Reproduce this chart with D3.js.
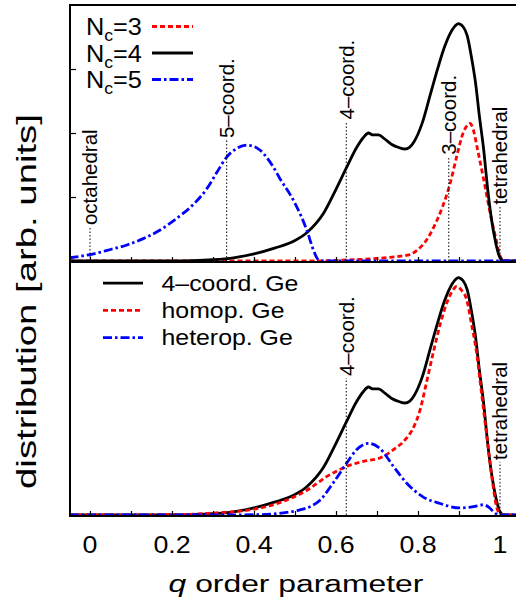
<!DOCTYPE html>
<html>
<head>
<meta charset="utf-8">
<script src="https://cdn.jsdelivr.net/npm/d3@7"></script>
<style>
  html, body { margin: 0; padding: 0; background: #fff; }
  svg { display: block; font-family: "Liberation Sans", Arial, Helvetica, sans-serif; }
</style>
</head>
<body>
<svg id="chart" width="516" height="606"></svg>
<script>
// Distribution of the q order parameter, split by coordination number (top)
// and by homopolar / heteropolar bonding of 4-fold Ge (bottom). [q, value]
const nc3 = [[-0.05,0],[0.55,0],[0.62,0.015],[0.7,0.04],[0.75,0.07],[0.78,0.1],[0.8,0.18],
  [0.82,0.32],[0.84,0.55],[0.86,0.85],[0.88,1.25],[0.895,1.65],[0.91,2.0],[0.92,2.12],
  [0.927,2.15],[0.935,2.05],[0.945,1.75],[0.96,1.28],[0.975,0.78],[0.99,0.35],[1.0,0.08],
  [1.01,0],[1.05,0]];
const nc4 = [[-0.05,0],[0.2,0],[0.25,0.005],[0.3,0.02],[0.35,0.05],[0.4,0.11],[0.45,0.2],
  [0.5,0.32],[0.53,0.45],[0.57,0.75],[0.6,1.12],[0.625,1.45],[0.65,1.77],[0.667,1.93],
  [0.679,2.0],[0.69,1.97],[0.703,1.97],[0.72,1.9],[0.736,1.82],[0.755,1.77],[0.768,1.75],
  [0.78,1.78],[0.79,1.86],[0.81,2.15],[0.83,2.6],[0.85,3.05],[0.865,3.35],[0.878,3.55],
  [0.89,3.67],[0.898,3.71],[0.91,3.66],[0.92,3.52],[0.93,3.2],[0.94,2.8],[0.95,2.25],
  [0.96,1.75],[0.97,1.12],[0.98,0.62],[0.99,0.27],[1.0,0.05],[1.01,0],[1.05,0]];
const nc5 = [[-0.05,0.05],[0,0.1],[0.05,0.18],[0.09,0.25],[0.13,0.35],[0.17,0.48],[0.21,0.66],
  [0.25,0.87],[0.285,1.13],[0.31,1.39],[0.333,1.62],[0.358,1.76],[0.382,1.81],[0.4,1.79],
  [0.415,1.73],[0.447,1.47],[0.463,1.29],[0.496,0.95],[0.515,0.7],[0.53,0.46],[0.545,0.17],
  [0.557,0.02],[0.57,0],[1.05,0]];
const fourCoordGe = nc4;
const homopGe = [[-0.05,0],[0.2,0.005],[0.3,0.03],[0.39,0.08],[0.43,0.13],[0.47,0.21],[0.5,0.29],
  [0.53,0.39],[0.555,0.5],[0.577,0.6],[0.6,0.68],[0.626,0.76],[0.65,0.81],[0.675,0.85],
  [0.707,0.89],[0.725,0.95],[0.74,1.02],[0.772,1.2],[0.79,1.38],[0.805,1.64],[0.82,2.05],
  [0.837,2.53],[0.855,3.0],[0.87,3.31],[0.882,3.48],[0.894,3.57],[0.905,3.52],[0.919,3.36],
  [0.93,3.0],[0.943,2.53],[0.955,1.9],[0.968,1.22],[0.98,0.6],[0.992,0.12],[1.0,0.02],
  [1.01,0],[1.05,0]];
const heteropGe = [[-0.05,0],[0.35,0],[0.431,0.01],[0.48,0.04],[0.512,0.08],[0.54,0.14],
  [0.561,0.23],[0.593,0.5],[0.626,0.81],[0.65,1.02],[0.679,1.12],[0.707,1.04],[0.74,0.76],
  [0.772,0.5],[0.813,0.28],[0.854,0.18],[0.902,0.11],[0.935,0.13],[0.959,0.16],[0.975,0.11],
  [0.984,0.05],[1.0,0],[1.05,0]];

const topLegend = ["3", "4", "5"];               // N_c values
const bottomLegend = ["4–coord. Ge", "homop. Ge", "heterop. Ge"];
const topMarkerNames = ["octahedral", "5–coord.", "4–coord.", "3–coord.", "tetrahedral"];
const topMarkerQ = [0, 1/3, 0.625, 0.875, 1];
const bottomMarkerNames = ["4–coord.", "tetrahedral"];
const bottomMarkerQ = [0.625, 1];
const xTickValues = [0, 0.1, 0.2, 0.3, 0.4, 0.5, 0.6, 0.7, 0.8, 0.9, 1];
const xLabelValues = [0, 0.2, 0.4, 0.6, 0.8, 1];
const xTickLabels = ["0", "0.2", "0.4", "0.6", "0.8", "1"];
const yTickValues = [1, 2, 3];

const svg = d3.select("#chart");
const left = 70, right = 521;
const x = d3.scaleLinear().domain([0, 1]).range([90, 500]);
const topP = { y0: 5, y1: 262 };
const botP = { y0: 262, y1: 516 };
const yTop = d3.scaleLinear().domain([0, 4]).range([261, 5]);
const yBot = d3.scaleLinear().domain([0, 4]).range([515, 259]);

const styles = {
  red:   { stroke: "#ff0000", dash: "5,3" },
  black: { stroke: "#000000", dash: null },
  blue:  { stroke: "#0000ff", dash: "9,3,2.5,3" }
};

// clip regions for the two panels
const defs = svg.append("defs");
[["clipTop", topP], ["clipBot", botP]].forEach(([id, p]) => {
  defs.append("clipPath").attr("id", id).append("rect")
    .attr("x", left).attr("y", p.y0).attr("width", right - left).attr("height", p.y1 - p.y0);
});

function drawCurve(g, data, yScale, st) {
  const line = d3.line().x(d => x(d[0])).y(d => yScale(d[1])).curve(d3.curveMonotoneX);
  g.append("path").datum(data).attr("d", line)
    .attr("fill", "none").attr("stroke", st.stroke).attr("stroke-width", 2.8)
    .attr("stroke-dasharray", st.dash).attr("stroke-linejoin", "round");
}

function drawMarkers(g, names, qs, tops, yScale) {
  names.forEach((name, i) => {
    const px = x(qs[i]);
    const yt = yScale(tops[i]);
    g.append("line").attr("x1", px).attr("x2", px)
      .attr("y1", yScale(0)).attr("y2", yt)
      .attr("stroke", "#000").attr("stroke-width", 1).attr("stroke-dasharray", "1.5,2");
    g.append("text")
      .attr("transform", `translate(${px},${yt - 2}) rotate(-90)`)
      .attr("dy", "0.36em").attr("font-size", 20.5).attr("fill", "#000")
      .text(name);
  });
}

function xTicksAt(yBase) {
  const ax = d3.axisBottom(x).tickValues(xTickValues).tickSize(-5).tickFormat("");
  const g = svg.append("g").attr("transform", `translate(0,${yBase})`).call(ax);
  g.select(".domain").remove();
  g.selectAll(".tick line").attr("stroke", "#000").attr("stroke-width", 1.2);
}

// ---- top panel ----
const gTop = svg.append("g").attr("clip-path", "url(#clipTop)");
drawCurve(gTop, nc3, yTop, styles.red);
drawCurve(gTop, nc4, yTop, styles.black);
drawCurve(gTop, nc5, yTop, styles.blue);
drawMarkers(svg.append("g"), topMarkerNames, topMarkerQ, [0.53, 1.89, 2.18, 1.63, 0.85], yTop);

// ---- bottom panel ----
const gBot = svg.append("g").attr("clip-path", "url(#clipBot)");
drawCurve(gBot, fourCoordGe, yBot, styles.black);
drawCurve(gBot, homopGe, yBot, styles.red);
drawCurve(gBot, heteropGe, yBot, styles.blue);
drawMarkers(svg.append("g"), bottomMarkerNames, bottomMarkerQ, [2.14, 0.83], yBot);

// ticks
xTicksAt(topP.y1);
xTicksAt(botP.y1);
const yAx = d3.axisLeft(yTop).tickValues(yTickValues).tickSize(-6).tickFormat("");
const gy = svg.append("g").attr("transform", `translate(${left},0)`).call(yAx);
gy.select(".domain").remove();
gy.selectAll(".tick line").attr("stroke", "#000").attr("stroke-width", 1.2);

// frames
[topP, botP].forEach(p => {
  svg.append("rect").attr("x", left).attr("y", p.y0)
    .attr("width", right - left).attr("height", p.y1 - p.y0)
    .attr("fill", "none").attr("stroke", "#000").attr("stroke-width", 2);
});

// ---- legends ----
const legTopColors = [styles.red, styles.black, styles.blue];
topLegend.forEach((n, i) => {
  const by = 35 + i * 26.5;
  const t = svg.append("text")
    .attr("transform", `translate(86,${by}) scale(1.1,1)`)
    .attr("font-size", 23).attr("fill", "#000");
  t.append("tspan").text("N");
  t.append("tspan").attr("font-size", 16).attr("dy", 6).text("c");
  t.append("tspan").attr("dy", -6).text("=" + n);
  const st = legTopColors[i];
  svg.append("line").attr("x1", 152).attr("x2", 193).attr("y1", by - 8.5).attr("y2", by - 8.5)
    .attr("stroke", st.stroke).attr("stroke-width", 2.8).attr("stroke-dasharray", st.dash);
});

const legBotColors = [styles.black, styles.red, styles.blue];
bottomLegend.forEach((name, i) => {
  const by = 290.7 + i * 27.2;
  const st = legBotColors[i];
  svg.append("line").attr("x1", 103).attr("x2", 143).attr("y1", by - 7.5).attr("y2", by - 7.5)
    .attr("stroke", st.stroke).attr("stroke-width", 2.8).attr("stroke-dasharray", st.dash);
  svg.append("text")
    .attr("transform", `translate(161.5,${by}) scale(1.13,1)`)
    .attr("font-size", 22).attr("fill", "#000").text(name);
});

// ---- axis labels ----
xLabelValues.forEach((v, i) => {
  svg.append("text")
    .attr("transform", `translate(${x(v)},553) scale(1.14,1)`)
    .attr("text-anchor", "middle").attr("font-size", 23.5).attr("fill", "#000")
    .text(xTickLabels[i]);
});

const xt = svg.append("text")
  .attr("transform", `translate(296,591.5) scale(1.3,1)`)
  .attr("text-anchor", "middle").attr("font-size", 24.5).attr("fill", "#000");
xt.append("tspan").attr("font-style", "italic").text("q");
xt.append("tspan").text(" order parameter");

svg.append("text")
  .attr("transform", `translate(36,301.5) rotate(-90) scale(1.42,1)`)
  .attr("text-anchor", "middle").attr("font-size", 27).attr("fill", "#000")
  .text("distribution [arb. units]");
</script>
</body>
</html>
